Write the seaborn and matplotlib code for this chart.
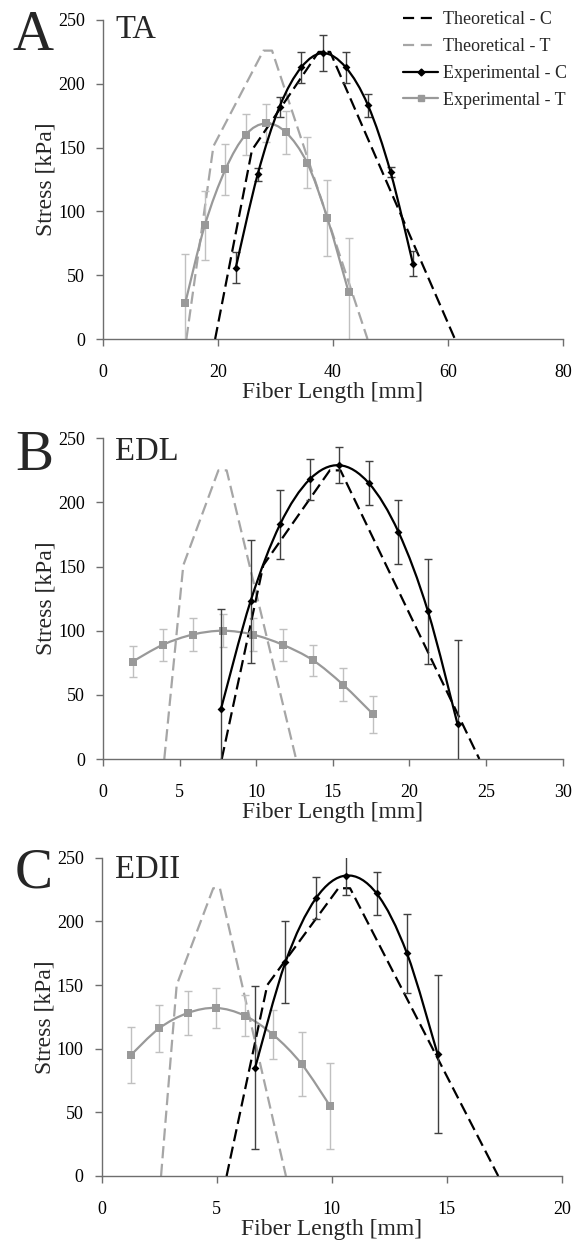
import numpy as np
import pandas as pd
import matplotlib
matplotlib.use("Agg")
import matplotlib.pyplot as plt
import seaborn as sns
from matplotlib.path import Path
from matplotlib.patches import PathPatch
from matplotlib.lines import Line2D

# ---------------- data ----------------
# Panel A (TA)
ta_theo_c_x = [19.5, 25.9, 37.5, 39.5, 61.2]
ta_theo_c_y = [0, 148, 225, 225, 0]
ta_theo_t_x = [14.5, 19.2, 27.9, 29.4, 46.0]
ta_theo_t_y = [0, 151, 226, 226, 0]
ta_exp_c_x = [23.1, 26.9, 30.7, 34.5, 38.3, 42.2, 46.1, 50.0, 53.9]
ta_exp_c_y = [56, 129, 182, 213, 224, 213, 183, 131, 59]
ta_exp_c_err = [12, 5, 8, 12, 14, 12, 9, 4, 10]
ta_exp_t_x = [14.3, 17.7, 21.3, 24.8, 28.3, 31.8, 35.5, 39.0, 42.7]
ta_exp_t_y = [28, 89, 133, 160, 169, 162, 138, 95, 37]
ta_exp_t_err = [39, 27, 20, 16, 15, 17, 20, 30, 42]

# Panel B (EDL)
edl_theo_c_x = [7.75, 10.46, 14.8, 15.5, 24.56]
edl_theo_c_y = [0, 151, 225, 225, 0]
edl_theo_t_x = [4.0, 5.24, 7.53, 8.07, 12.6]
edl_theo_t_y = [0, 151, 225, 225, 0]
edl_exp_c_x = [7.70, 9.63, 11.56, 13.49, 15.42, 17.35, 19.28, 21.21, 23.14]
edl_exp_c_y = [39, 123, 183, 218, 229, 215, 177, 115, 27]
edl_exp_c_err = [78, 48, 27, 16, 14, 17, 25, 41, 66]
edl_exp_t_x = [1.94, 3.90, 5.86, 7.82, 9.78, 11.74, 13.70, 15.66, 17.62]
edl_exp_t_y = [76, 89, 97, 100, 97, 89, 77, 58, 35]
edl_exp_t_err = [12, 12.5, 13, 13, 13, 12.5, 12, 13, 14.5]

# Panel C (EDII)
edii_theo_c_x = [5.43, 7.2, 10.29, 10.8, 17.24]
edii_theo_c_y = [0, 150, 226, 226, 0]
edii_theo_t_x = [2.58, 3.26, 4.85, 5.14, 8.01]
edii_theo_t_y = [0, 150, 226, 226, 0]
edii_exp_c_x = [6.67, 7.99, 9.31, 10.63, 11.95, 13.27, 14.6]
edii_exp_c_y = [85, 168, 218, 236, 222, 175, 96]
edii_exp_c_err = [64, 32, 16.5, 15, 17, 31, 62]
edii_exp_t_x = [1.27, 2.50, 3.74, 4.97, 6.21, 7.45, 8.69, 9.93]
edii_exp_t_y = [95, 116, 128, 132, 126, 111, 88, 55]
edii_exp_t_err = [22, 18.5, 17, 16, 16, 19, 25, 34]

panel_letters = ["A", "B", "C"]
muscle_names = ["TA", "EDL", "EDII"]
x_ticks = [[0, 20, 40, 60, 80], [0, 5, 10, 15, 20, 25, 30], [0, 5, 10, 15, 20]]
y_ticks = [0, 50, 100, 150, 200, 250]
legend_labels = ["Theoretical - C", "Theoretical - T", "Experimental - C", "Experimental - T"]

# ---------------- style ----------------
sns.set_theme(style="white")
plt.rcParams["font.family"] = ["Liberation Serif", "DejaVu Serif"]

W, H = 574, 1243
fig = plt.figure(figsize=(W / 100, H / 100), dpi=100)

AXIS_COL = "#6e6e6e"
BLACK = "#000000"
GREY_LINE = "#999999"
GREY_DASH = "#a6a6a6"
GREY_ERR = "#c0c0c0"
BLACK_ERR = "#404040"
DASH = (5.5, 2.5)

boxes = [(103, 563, 20, 339), (103, 562.7, 438.3, 759), (101.7, 561.7, 857.7, 1176)]
letter_pos = [(12, 50, 115, 38), (15, 470, 115, 460), (15, 888, 115, 878)]

datasets = [
    (ta_theo_c_x, ta_theo_c_y, ta_theo_t_x, ta_theo_t_y,
     ta_exp_c_x, ta_exp_c_y, ta_exp_c_err, ta_exp_t_x, ta_exp_t_y, ta_exp_t_err),
    (edl_theo_c_x, edl_theo_c_y, edl_theo_t_x, edl_theo_t_y,
     edl_exp_c_x, edl_exp_c_y, edl_exp_c_err, edl_exp_t_x, edl_exp_t_y, edl_exp_t_err),
    (edii_theo_c_x, edii_theo_c_y, edii_theo_t_x, edii_theo_t_y,
     edii_exp_c_x, edii_exp_c_y, edii_exp_c_err, edii_exp_t_x, edii_exp_t_y, edii_exp_t_err),
]


def smooth_path(xs, ys):
    """Excel-like smoothed line drawn as cubic Bezier segments through the points."""
    P = np.column_stack([xs, ys]).astype(float)
    n = len(P)
    verts = [P[0]]
    codes = [Path.MOVETO]
    for i in range(n - 1):
        p0 = P[i - 1] if i > 0 else P[i]
        p1 = P[i]
        p2 = P[i + 1]
        p3 = P[i + 2] if i + 2 < n else P[i + 1]
        c1 = p1 + (p2 - p0) / 6.0
        c2 = p2 - (p3 - p1) / 6.0
        verts += [c1, c2, p2]
        codes += [Path.CURVE4] * 3
    return Path(verts, codes)


for k, (box, data) in enumerate(zip(boxes, datasets)):
    l, r, t, b = box
    ax = fig.add_axes([l / W, 1 - b / H, (r - l) / W, (b - t) / H])
    (tcx, tcy, ttx, tty, ecx, ecy, ece, etx, ety, ete) = data

    # theoretical curves
    sns.lineplot(x=tcx, y=tcy, ax=ax, color=BLACK, linewidth=1.6, sort=False,
                 estimator=None, zorder=3)
    ax.lines[-1].set_dashes(DASH)
    sns.lineplot(x=ttx, y=tty, ax=ax, color=GREY_DASH, linewidth=1.6, sort=False,
                 estimator=None, zorder=2)
    ax.lines[-1].set_dashes(DASH)

    # experimental T (grey)
    ax.errorbar(etx, ety, yerr=ete, fmt="none", ecolor=GREY_ERR, elinewidth=1.0,
                capsize=3, capthick=1.0, zorder=2)
    ax.add_patch(PathPatch(smooth_path(etx, ety), facecolor="none",
                           edgecolor=GREY_LINE, linewidth=1.6, zorder=3))
    sns.scatterplot(x=etx, y=ety, ax=ax, marker="s", s=30, color=GREY_LINE,
                    edgecolor=GREY_LINE, linewidth=0, zorder=4)

    # experimental C (black)
    ax.errorbar(ecx, ecy, yerr=ece, fmt="none", ecolor=BLACK_ERR, elinewidth=1.0,
                capsize=3, capthick=1.0, zorder=4)
    ax.add_patch(PathPatch(smooth_path(ecx, ecy), facecolor="none",
                           edgecolor=BLACK, linewidth=1.6, zorder=5))
    sns.scatterplot(x=ecx, y=ecy, ax=ax, marker="D", s=16, color=BLACK,
                    edgecolor=BLACK, linewidth=0, zorder=6)

    ax.set_xlim(0, x_ticks[k][-1])
    ax.set_ylim(0, 250)
    ax.set_xticks(x_ticks[k])
    ax.set_yticks(y_ticks)
    ax.set_xticklabels([str(v) for v in x_ticks[k]])
    ax.set_yticklabels([str(v) for v in y_ticks])
    for s in ["top", "right"]:
        ax.spines[s].set_visible(False)
    for s in ["left", "bottom"]:
        ax.spines[s].set_color(AXIS_COL)
        ax.spines[s].set_linewidth(1.0)
    ax.tick_params(axis="both", which="major", direction="out", length=5, width=1,
                   color=AXIS_COL, labelsize=13, labelcolor="black",
                   bottom=True, left=True)
    ax.tick_params(axis="x", pad=13)
    ax.tick_params(axis="y", pad=8)
    ax.set_xlabel("Fiber Length [mm]", fontsize=17, labelpad=1)
    ax.set_ylabel("Stress [kPa]", fontsize=17, labelpad=1)
    ax.grid(False)
    ax.set_facecolor("white")

    lx, lby, mx, mby = letter_pos[k]
    fig.text(lx / W, 1 - lby / H, panel_letters[k], fontsize=41, ha="left", va="baseline")
    fig.text(mx / W, 1 - mby / H, muscle_names[k], fontsize=23.5, ha="left", va="baseline")

    if k == 0:
        handles = [
            Line2D([], [], color=BLACK, linewidth=1.6, dashes=(5, 3)),
            Line2D([], [], color=GREY_DASH, linewidth=1.6, dashes=(5, 3)),
            Line2D([], [], color=BLACK, linewidth=1.6, marker="D", markersize=3.5),
            Line2D([], [], color=GREY_LINE, linewidth=1.6, marker="s", markersize=5),
        ]
        fig.legend(handles, legend_labels, loc="upper left",
                   bbox_to_anchor=(403 / W, 1 - 11 / H), frameon=False,
                   fontsize=13, handlelength=1.95, handletextpad=0.25,
                   labelspacing=0.55, borderpad=0, borderaxespad=0)

fig.savefig("out.png", dpi=100, facecolor="white")
